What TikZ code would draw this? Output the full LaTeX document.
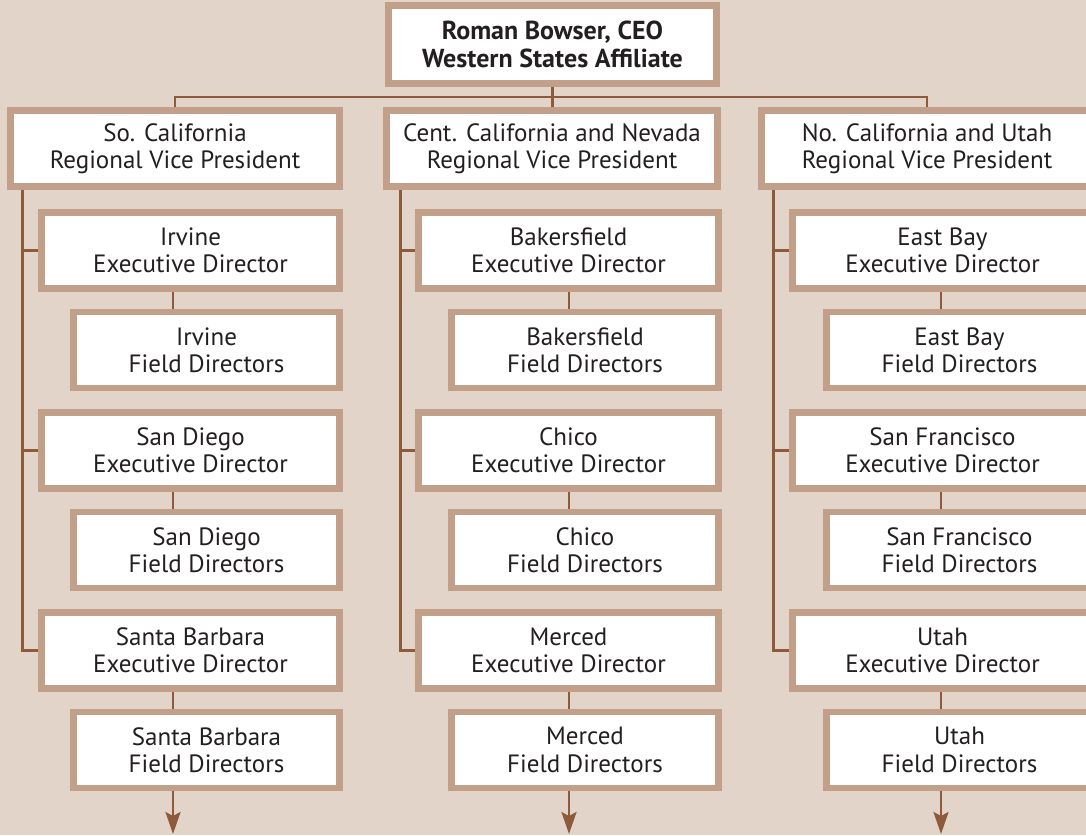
\documentclass[tikz,border=0pt]{standalone}
\usepackage{fontspec}
\setmainfont{PT Sans}
\usetikzlibrary{arrows.meta}
\definecolor{bg}{HTML}{E3D4C9}
\definecolor{frame}{HTML}{C29F88}
\definecolor{wire}{HTML}{8E5A3C}
\definecolor{ink}{HTML}{231F20}
\begin{document}
\begin{tikzpicture}[x=1pt,y=-1pt,
  box/.style={draw=frame, fill=white, line width=6.5pt, align=center, inner sep=0pt,
    text=ink, minimum height=76pt, font=\fontsize{25}{27.4}\selectfont},
  topbox/.style={box, minimum height=78pt, font=\fontsize{26}{27.4}\selectfont\bfseries},
  wirestyle/.style={draw=wire, line width=2.6pt},
  arrowwire/.style={wirestyle, -{Stealth[length=22pt,width=15pt,inset=4pt]}},
]
\fill[bg] (0,0) rectangle (1086,835);
\useasboundingbox (0,0) rectangle (1086,835);

% top of the chart
\node[topbox, minimum width=328pt] (ceo) at (552.5,44.5) {Roman Bowser, CEO\\Western States Affiliate};

% regional vice presidents
\node[box, minimum width=329pt] (vp1) at (175,148.5) {So. California\\Regional Vice President};
\node[box, minimum width=331pt] (vp2) at (552,148.5) {Cent. California and Nevada\\Regional Vice President};
\node[box, minimum width=331pt] (vp3) at (927,148.5) {No. California and Utah\\Regional Vice President};

% southern california
\node[box, minimum width=298pt] (e11) at (190.5,250.5) {Irvine\\Executive Director};
\node[box, minimum width=266pt] (f11) at (206.5,350) {Irvine\\Field Directors};
\node[box, minimum width=298pt] (e12) at (190.5,450.5) {San Diego\\Executive Director};
\node[box, minimum width=266pt] (f12) at (206.5,550) {San Diego\\Field Directors};
\node[box, minimum width=298pt] (e13) at (190.5,650.5) {Santa Barbara\\Executive Director};
\node[box, minimum width=266pt] (f13) at (206.5,750) {Santa Barbara\\Field Directors};

% central california and nevada
\node[box, minimum width=300pt] (e21) at (568.5,250.5) {Bakersfield\\Executive Director};
\node[box, minimum width=267pt] (f21) at (585,350) {Bakersfield\\Field Directors};
\node[box, minimum width=300pt] (e22) at (568.5,450.5) {Chico\\Executive Director};
\node[box, minimum width=267pt] (f22) at (585,550) {Chico\\Field Directors};
\node[box, minimum width=300pt] (e23) at (568.5,650.5) {Merced\\Executive Director};
\node[box, minimum width=267pt] (f23) at (585,750) {Merced\\Field Directors};

% northern california and utah
\node[box, minimum width=300pt] (e31) at (942.5,250.5) {East Bay\\Executive Director};
\node[box, minimum width=266pt] (f31) at (959.5,350) {East Bay\\Field Directors};
\node[box, minimum width=300pt] (e32) at (942.5,450.5) {San Francisco\\Executive Director};
\node[box, minimum width=266pt] (f32) at (959.5,550) {San Francisco\\Field Directors};
\node[box, minimum width=300pt] (e33) at (942.5,650.5) {Utah\\Executive Director};
\node[box, minimum width=266pt] (f33) at (959.5,750) {Utah\\Field Directors};

% connectors from the CEO to the regions
\coordinate (bus) at (0,97);
\draw[wirestyle] (ceo.south) -- (ceo.south |- vp2.north);
\draw[wirestyle] (vp1.north) |- (bus -| vp3.north) -- (vp3.north);

% spines from each region to its executive directors
\coordinate (s1) at ([xshift=15pt]vp1.south west);
\coordinate (s2) at ([xshift=17pt]vp2.south west);
\coordinate (s3) at ([xshift=15pt]vp3.south west);
\foreach \c in {1,2,3}{
  \draw[wirestyle] (s\c) |- (e\c3.west);
  \draw[wirestyle] (s\c |- e\c1.west) -- (e\c1.west);
  \draw[wirestyle] (s\c |- e\c2.west) -- (e\c2.west);
}

% executive director to field directors, and onward
\coordinate (c1) at (173,0);
\coordinate (c2) at (569,0);
\coordinate (c3) at (941,0);
\coordinate (tip) at (0,834);
\foreach \c in {1,2,3}{
  \foreach \r in {1,2,3}{
    \draw[wirestyle] (c\c |- e\c\r.south) -- (c\c |- f\c\r.north);
  }
  \draw[arrowwire] (c\c |- f\c3.south) -- (c\c |- tip);
}
\end{tikzpicture}
\end{document}
